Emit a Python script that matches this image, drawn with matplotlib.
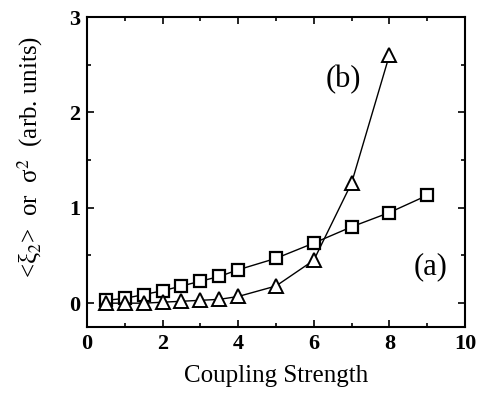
import matplotlib
matplotlib.use('Agg')
import matplotlib.pyplot as plt
from matplotlib.ticker import MultipleLocator

plt.rcParams['font.family'] = 'Liberation Serif'
plt.rcParams['mathtext.fontset'] = 'stix'

# data
coupling_sq = [0.5, 1, 1.5, 2, 2.5, 3, 3.5, 4, 5, 6, 7, 8, 9]
xi2_mean = [0.03, 0.05, 0.09, 0.13, 0.18, 0.23, 0.28, 0.35, 0.47, 0.63, 0.80, 0.95, 1.13]

coupling_tri = [0.5, 1, 1.5, 2, 2.5, 3, 3.5, 4, 5, 6, 7, 8]
sigma2 = [0.0, 0.0, 0.0, 0.01, 0.02, 0.03, 0.04, 0.07, 0.18, 0.45, 1.26, 2.60]

fig = plt.figure(figsize=(4.82, 4.01), dpi=100)
ax = fig.add_axes([0.1805, 0.1845, 0.7842, 0.7731])

ax.plot(coupling_sq, xi2_mean, color='black', lw=1.0, marker='s', ms=9,
        mfc='white', mec='black', mew=1.6)
ax.plot(coupling_tri, sigma2, color='black', lw=1.0, marker='^', ms=10,
        mfc='white', mec='black', mew=1.4)

ax.set_xlim(0, 10)
ax.set_ylim(-0.25, 3)
ax.xaxis.set_major_locator(MultipleLocator(2))
ax.xaxis.set_minor_locator(MultipleLocator(1))
ax.yaxis.set_major_locator(MultipleLocator(1))
ax.yaxis.set_minor_locator(MultipleLocator(0.5))
ax.tick_params(which='both', direction='in', top=True, right=True, labelsize=16, width=1.2)
ax.tick_params(which='major', length=5, pad=5)
ax.tick_params(which='minor', length=3)
for lab in ax.get_xticklabels() + ax.get_yticklabels():
    lab.set_fontweight('bold')
for s in ax.spines.values():
    s.set_linewidth(1.5)

ax.set_xlabel('Coupling Strength', fontsize=18, labelpad=8)
ax.set_ylabel('<ξ$_2$>  or  σ$^2$  (arb. units)', fontsize=18)
ax.yaxis.set_label_coords(-0.11, 0.55)

ax.text(6.77, 2.34, '(b)', fontsize=22, ha='center', va='center')
ax.text(9.1, 0.38, '(a)', fontsize=22, ha='center', va='center')

fig.savefig('out.png', dpi=100)
